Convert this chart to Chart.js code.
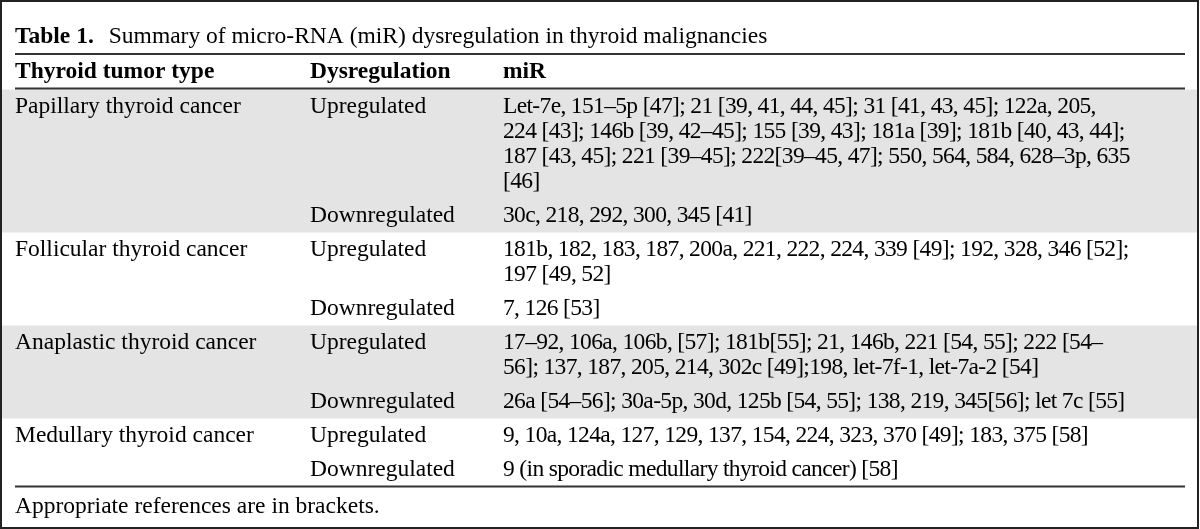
<!DOCTYPE html>
<html>
<head>
<meta charset="utf-8">
<script src="https://cdn.jsdelivr.net/npm/chart.js@4.4.1/dist/chart.umd.min.js"></script>
<style>
  html, body { margin: 0; padding: 0; background: #fff; }
  canvas { display: block; }
</style>
</head>
<body>
<canvas id="table1" width="1200" height="529"></canvas>
<script>
// ====== TABLE TEXT ======
const titleLabel = 'Table 1.';
const titleText = 'Summary of micro-RNA (miR) dysregulation in thyroid malignancies';
const headers = ['Thyroid tumor type', 'Dysregulation', 'miR'];
const tumorTypes = [
    'Papillary thyroid cancer',
    'Follicular thyroid cancer',
    'Anaplastic thyroid cancer',
    'Medullary thyroid cancer'
];
const regulation = ['Upregulated', 'Downregulated'];
const upMiR = [
    ['Let-7e, 151\u20135p [47]; 21 [39, 41, 44, 45]; 31 [41, 43, 45]; 122a, 205,',
     '224 [43]; 146b [39, 42\u201345]; 155 [39, 43]; 181a [39]; 181b [40, 43, 44];',
     '187 [43, 45]; 221 [39\u201345]; 222[39\u201345, 47]; 550, 564, 584, 628\u20133p, 635',
     '[46]'],
    ['181b, 182, 183, 187, 200a, 221, 222, 224, 339 [49]; 192, 328, 346 [52];',
     '197 [49, 52]'],
    ['17\u201392, 106a, 106b, [57]; 181b[55]; 21, 146b, 221 [54, 55]; 222 [54\u2013',
     '56]; 137, 187, 205, 214, 302c [49];198, let-7f-1, let-7a-2 [54]'],
    ['9, 10a, 124a, 127, 129, 137, 154, 224, 323, 370 [49]; 183, 375 [58]']
];
const downMiR = [
    ['30c, 218, 292, 300, 345 [41]'],
    ['7, 126 [53]'],
    ['26a [54\u201356]; 30a-5p, 30d, 125b [54, 55]; 138, 219, 345[56]; let 7c [55]'],
    ['9 (in sporadic medullary thyroid cancer) [58]']
];
const footnote = 'Appropriate references are in brackets.';

// ====== LAYOUT (table units) ======
const colX = [15, 310, 503];
const ruleLeft = 15, ruleRight = 1185;
const LINE = 25, PAD = 4.5, ASC = 19;
const FONT = '23.5px "Liberation Serif", "Times New Roman", serif';
const BOLD = 'bold ' + FONT;

function buildLayout() {
    let y = 89.5;
    const bands = [], lines = [];
    tumorTypes.forEach((type, g) => {
        const top = y;
        [upMiR[g], downMiR[g]].forEach((miR, r) => {
            y += PAD;
            const first = y + ASC;
            if (r === 0) lines.push({ col: 0, y: first, text: type });
            lines.push({ col: 1, y: first, text: regulation[r] });
            miR.forEach((t, i) => lines.push({ col: 2, y: first + i * LINE, text: t }));
            y += miR.length * LINE + PAD;
        });
        bands.push({ top, bottom: y, grey: g % 2 === 0 });
    });
    return { bands, lines, bottom: y };
}
const layout = buildLayout();

// ====== TABLE PLUGIN ======
const tablePlugin = {
    id: 'tablePlugin',
    beforeDatasetsDraw(chart) {
        const { ctx, scales: { x, y } } = chart;
        ctx.save();
        ctx.fillStyle = '#e4e4e4';
        layout.bands.filter(b => b.grey).forEach(b => {
            ctx.fillRect(x.getPixelForValue(2), y.getPixelForValue(b.top),
                x.getPixelForValue(1197) - x.getPixelForValue(2),
                y.getPixelForValue(b.bottom) - y.getPixelForValue(b.top));
        });
        ctx.restore();
    },
    afterDraw(chart) {
        const { ctx, scales: { x, y } } = chart;
        ctx.save();
        ctx.fillStyle = '#000';
        ctx.textBaseline = 'alphabetic';

        // title
        ctx.font = BOLD;
        ctx.fillText(titleLabel, x.getPixelForValue(colX[0]), y.getPixelForValue(43));
        const w = ctx.measureText(titleLabel).width;
        ctx.font = FONT;
        ctx.fillText(titleText, x.getPixelForValue(colX[0]) + w + 15, y.getPixelForValue(43));

        // header
        ctx.font = BOLD;
        headers.forEach((h, i) => ctx.fillText(h, x.getPixelForValue(colX[i]), y.getPixelForValue(78)));

        // body (miR column is set a little tighter, as in the source)
        ctx.font = FONT;
        layout.lines.forEach(l => {
            ctx.letterSpacing = l.col === 2 ? '-0.65px' : '0px';
            ctx.fillText(l.text, x.getPixelForValue(colX[l.col]), y.getPixelForValue(l.y));
        });
        ctx.letterSpacing = '0px';

        // footnote
        ctx.fillText(footnote, x.getPixelForValue(colX[0]), y.getPixelForValue(layout.bottom + 26));

        // rules
        ctx.strokeStyle = '#333';
        ctx.lineWidth = 2;
        [54, 88.5, layout.bottom].forEach(r => {
            ctx.beginPath();
            ctx.moveTo(x.getPixelForValue(ruleLeft), y.getPixelForValue(r));
            ctx.lineTo(x.getPixelForValue(ruleRight), y.getPixelForValue(r));
            ctx.stroke();
        });

        // outer frame
        ctx.strokeStyle = '#222';
        ctx.strokeRect(x.getPixelForValue(1), y.getPixelForValue(1),
            x.getPixelForValue(1198) - x.getPixelForValue(1),
            y.getPixelForValue(528) - y.getPixelForValue(1));
        ctx.restore();
    }
};

// ====== INIT ======
window.onload = () => {
    const ctx = document.getElementById('table1').getContext('2d');
    new Chart(ctx, {
        type: 'scatter',
        data: { datasets: [{ data: [], pointRadius: 0 }] },
        options: {
            responsive: false,
            animation: false,
            devicePixelRatio: 1,
            layout: { padding: 0 },
            plugins: { legend: { display: false }, tooltip: { enabled: false } },
            scales: {
                x: { type: 'linear', min: 0, max: 1200, display: false },
                y: { type: 'linear', min: 0, max: 529, reverse: true, display: false }
            }
        },
        plugins: [tablePlugin]
    });
};
</script>
</body>
</html>
